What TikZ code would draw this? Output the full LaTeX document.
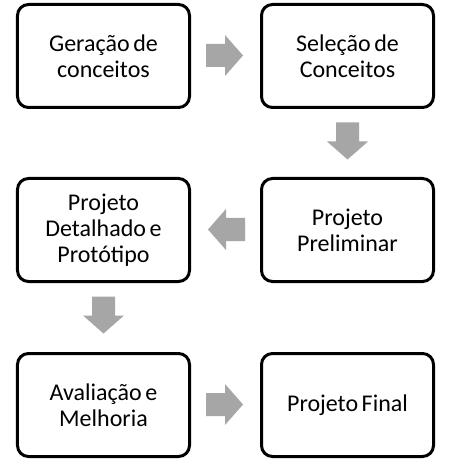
\documentclass[tikz,border=0pt]{standalone}
\usepackage{fontspec}
\setmainfont{Carlito}
\newcommand\boxfont{\fontsize{24bp}{26bp}\selectfont\spaceskip=0.15em plus 0.05em\relax}
\begin{document}
\begin{tikzpicture}[x=1bp,y=-1bp,
  stepbox/.style={draw=black, line width=3bp, rounded corners=11bp, fill=white,
    minimum width=172bp, minimum height=103bp, align=center,
    font=\boxfont, text=black},
  arrowfill/.style={fill=arrowgray}]
\definecolor{arrowgray}{HTML}{A6A6A6}
\useasboundingbox (0,0) rectangle (450,470);
\fill[white] (0,0) rectangle (450,470);
\newcommand\blockarrow[2]{%
  \fill[arrowfill, shift={#1}, rotate=#2]
    (-18.5,-11.5) -- (0.5,-11.5) -- (0.5,-20.5) -- (18.5,0) -- (0.5,20.5) -- (0.5,11.5) -- (-18.5,11.5) -- cycle;}
\node[stepbox] (ger) at (103.5,56) {Geração de\\conceitos};
\node[stepbox] (sel) at (347.5,56) {Seleção de\\Conceitos};
\node[stepbox] (pre) at (347.5,230) {Projeto\\Preliminar};
\node[stepbox] (det) at (103.5,230) {Projeto\\Detalhado e\\Protótipo};
\node[stepbox] (ava) at (103.5,405) {Avaliação e\\Melhoria};
\node[stepbox] (fin) at (347.5,405) {Projeto Final};
\coordinate (a1) at (224.5,55.5);
\coordinate (a2) at (347.5,141);
\coordinate (a3) at (226.5,229.5);
\coordinate (a4) at (103.5,315);
\coordinate (a5) at (224.5,404.5);
\blockarrow{(a1)}{0}
\blockarrow{(a2)}{-90}
\blockarrow{(a3)}{180}
\blockarrow{(a4)}{-90}
\blockarrow{(a5)}{0}
\end{tikzpicture}
\end{document}
